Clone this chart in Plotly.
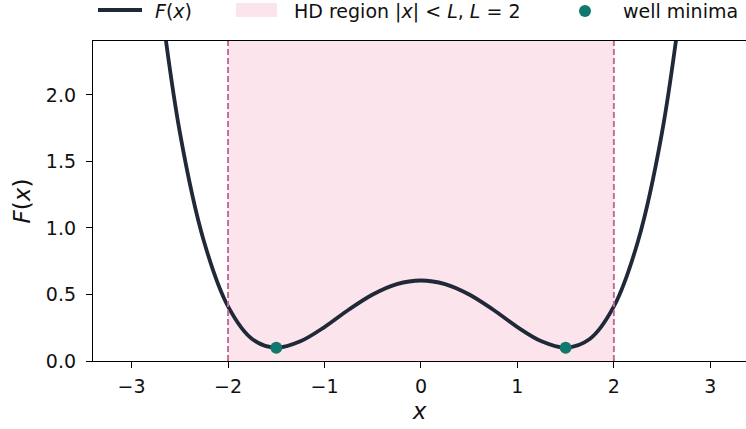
import plotly.graph_objects as go

# ---- data ----
x_vals = [-2.75, -2.5, -2.25, -2.0, -1.75, -1.5, -1.25, -1.0, -0.75, -0.5, -0.25, 0.0,
          0.25, 0.5, 0.75, 1.0, 1.25, 1.5, 1.75, 2.0, 2.25, 2.5, 2.75]
f_vals = [3.00, 1.72, 0.90, 0.41, 0.165, 0.10, 0.148, 0.255, 0.385, 0.50, 0.578, 0.605,
          0.578, 0.50, 0.385, 0.255, 0.148, 0.10, 0.165, 0.41, 0.90, 1.72, 3.00]
min_x = [-1.5, 1.5]
min_f = [0.10, 0.10]
L = 2
x_ticks = [-3, -2, -1, 0, 1, 2, 3]
x_tick_text = ["\u22123", "\u22122", "\u22121", "0", "1", "2", "3"]
y_ticks = [0.0, 0.5, 1.0, 1.5, 2.0]
y_tick_text = ["0.0", "0.5", "1.0", "1.5", "2.0"]

CURVE = "#1f2937"
PINK = "#fce4ec"
DASH = "#c4689b"
TEAL = "#11786d"
FONT = "DejaVu Sans"

W, H = 746, 429
ml, mr, mt, mb = 93, 0, 41, 68
pw, ph = W - ml - mr, H - mt - mb

def px(xp):
    return (xp - ml) / pw

def py(yp):
    return (H - mb - yp) / ph

fig = go.Figure()

fig.add_vrect(x0=-L, x1=L, fillcolor=PINK, opacity=1, line_width=0, layer="below")
for xv in (-L, L):
    fig.add_vline(x=xv, line=dict(color=DASH, width=1.9, dash="6px,3px"))

fig.add_trace(go.Scatter(x=x_vals, y=f_vals, mode="lines",
                         line=dict(color=CURVE, width=3.8, shape="spline", smoothing=1.0),
                         showlegend=False, hoverinfo="skip"))
fig.add_trace(go.Scatter(x=min_x, y=min_f, mode="markers",
                         marker=dict(color=TEAL, size=12), showlegend=False, cliponaxis=False))

# ---- manual legend (above the axes) ----
ly = py(10)
shapes = [
    dict(type="line", xref="paper", yref="paper", x0=px(98), x1=px(142), y0=ly, y1=ly,
         line=dict(color=CURVE, width=3.8)),
    dict(type="rect", xref="paper", yref="paper", x0=px(236), x1=px(277), y0=py(17), y1=py(3),
         fillcolor=PINK, line_width=0),
    dict(type="circle", xref="paper", yref="paper", x0=px(579), x1=px(591), y0=py(17), y1=py(5),
         fillcolor=TEAL, line_width=0),
]
for s in shapes:
    fig.add_shape(**s)

ann = [
    (153, "<i>F</i>(<i>x</i>)"),
    (292, "HD region |<i>x</i>| &lt; <i>L</i>, <i>L</i> = 2"),
    (621, "well minima"),
]
for xp, t in ann:
    fig.add_annotation(x=px(xp), y=py(11), xref="paper", yref="paper", text=t,
                       showarrow=False, xanchor="left", yanchor="middle",
                       font=dict(family=FONT, size=19, color="#111111"))

fig.update_layout(
    width=W, height=H,
    margin=dict(l=ml, r=mr, t=mt, b=mb, pad=0),
    plot_bgcolor="white", paper_bgcolor="white",
    font=dict(family=FONT, size=19, color="#111111"),
    showlegend=False,
)
fig.update_xaxes(range=[-3.40, 3.37], tickvals=x_ticks, ticktext=x_tick_text,
                 showgrid=False, zeroline=False, showline=True, linecolor="black", linewidth=1.3,
                 mirror=True, ticks="outside", ticklen=6, tickwidth=1.3, tickcolor="black",
                 ticklabelstandoff=2,
                 title=dict(text="<i>x</i>", font=dict(size=23), standoff=6))
fig.update_yaxes(range=[0, 2.405], tickvals=y_ticks, ticktext=y_tick_text,
                 showgrid=False, zeroline=False, showline=True, linecolor="black", linewidth=1.3,
                 ticks="outside", ticklen=6, tickwidth=1.3, tickcolor="black",
                 ticklabelstandoff=6,
                 title=dict(text="<i>F</i>(<i>x</i>)", font=dict(size=23), standoff=8))

fig.write_html("out.html")
